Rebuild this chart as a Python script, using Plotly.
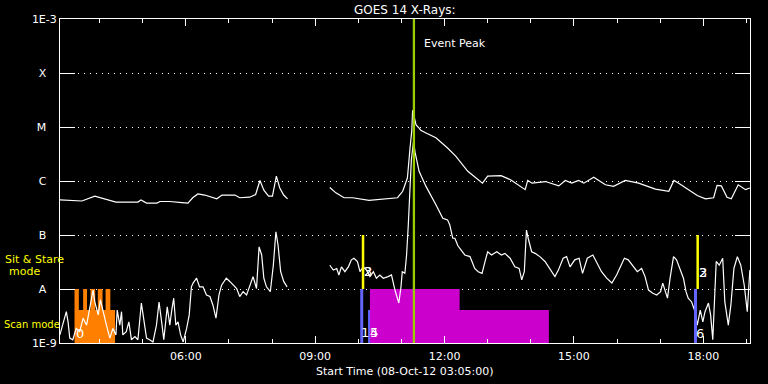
import numpy as np
import pandas as pd
import plotly.graph_objects as go

DAY = "2012-10-08"

# GOES 14 long channel (1-8 A): time (decimal hours UT) and log10 flux (W/m^2)
long_hours = [3.08, 3.42, 3.59, 3.89, 4.12, 4.38, 4.89, 4.96, 5.09, 5.33, 5.40, 5.63, 5.91, 6.05,
              6.16, 6.28, 6.44, 6.58, 6.72, 6.84, 7.14, 7.25, 7.48, 7.62, 7.72, 7.81, 7.92, 8.01,
              8.10, 8.18, 8.27, 8.36, 8.80, 9.34, 9.48, 9.67, 9.87, 10.25, 10.56, 10.91, 11.03,
              11.14, 11.20, 11.24, 11.26, 11.34, 11.41, 11.45, 11.57, 11.80, 12.07, 12.26, 12.54,
              12.88, 13.00, 13.31, 13.54, 13.56, 13.87, 13.93, 14.03, 14.34, 14.65, 14.80, 14.95,
              15.11, 15.23, 15.46, 15.73, 15.92, 16.19, 16.50, 16.89, 17.20, 17.32, 17.43, 17.66,
              17.86, 18.05, 18.24, 18.32, 18.42, 18.55, 18.65, 18.81, 18.98, 19.08]
long_log = [-6.35, -6.37, -6.37, -6.28, -6.33, -6.39, -6.39, -6.35, -6.41, -6.41, -6.38, -6.38, -6.40, -6.41,
            -6.31, -6.24, -6.26, -6.29, -6.33, -6.26, -6.26, -6.31, -6.30, -6.25, -5.99, -6.17, -6.28, -6.28,
            -5.91, -6.13, -6.26, -6.33, None, -6.12, -6.22, -6.31, -6.31, -6.36, -6.33, -6.31, -6.19,
            -5.94, -5.39, -5.07, -4.69, -4.96, -5.02, -5.06, -5.11, -5.20, -5.39, -5.54, -5.82,
            -6.04, -5.91, -5.90, -5.98, -5.99, -6.16, -5.99, -6.04, -6.01, -6.09, -5.99, -6.04,
            -5.99, -6.04, -5.93, -6.07, -6.10, -5.99, -6.04, -6.15, -6.19, -5.99, -6.04, -6.16,
            -6.27, -6.33, -6.31, -6.08, -6.09, -6.30, -6.33, -6.07, -6.16, -6.13]

# GOES 14 short channel (0.5-4 A)
short_hours = [3.08, 3.15, 3.23, 3.27, 3.31, 3.38, 3.46, 3.54, 3.62, 3.70, 3.77, 3.85, 3.89, 3.97,
               4.02, 4.08, 4.16, 4.24, 4.31, 4.38, 4.41, 4.47, 4.51, 4.54, 4.62, 4.68, 4.74, 4.82,
               4.89, 4.97, 5.05, 5.09, 5.16, 5.24, 5.32, 5.38, 5.44, 5.49, 5.57, 5.63, 5.67, 5.72,
               5.77, 5.82, 5.88, 5.94, 6.02, 6.08, 6.13, 6.17, 6.25, 6.32, 6.40, 6.48, 6.56, 6.63,
               6.70, 6.77, 6.83, 6.94, 7.02, 7.10, 7.18, 7.25, 7.33, 7.41, 7.48, 7.56, 7.64, 7.70,
               7.76, 7.81, 7.87, 7.96, 8.03, 8.09, 8.14, 8.20, 8.27, 8.35, 8.80,
               9.34, 9.42, 9.50, 9.55, 9.61, 9.69, 9.77, 9.84, 9.90, 9.98, 10.04, 10.11, 10.19,
               10.27, 10.35, 10.42, 10.50, 10.58, 10.69, 10.77, 10.85, 10.89, 10.94, 10.99, 11.02,
               11.08, 11.12, 11.16, 11.20, 11.23, 11.28, 11.32, 11.41, 11.57, 11.80, 11.96, 12.07,
               12.12, 12.19, 12.24, 12.31, 12.40, 12.47, 12.59, 12.70, 12.78, 12.87, 12.94, 13.00,
               13.09, 13.21, 13.32, 13.40, 13.52, 13.63, 13.73, 13.79, 13.85, 13.90, 13.94, 14.02,
               14.10, 14.21, 14.33, 14.44, 14.56, 14.64, 14.75, 14.83, 14.91, 15.02, 15.12, 15.20,
               15.31, 15.44, 15.53, 15.64, 15.76, 15.88, 15.99, 16.09, 16.17, 16.26, 16.38, 16.47,
               16.57, 16.65, 16.73, 16.83, 16.92, 17.01, 17.06, 17.11, 17.17, 17.23, 17.31, 17.38,
               17.46, 17.54, 17.60, 17.65, 17.73, 17.81, 17.86, 17.93, 17.99, 18.04, 18.12, 18.17,
               18.22, 18.25, 18.30, 18.37, 18.45, 18.50, 18.58, 18.64, 18.71, 18.79, 18.87, 18.95,
               19.02, 19.08]
short_log = [-8.85, -8.67, -8.42, -8.61, -8.91, -8.94, -8.73, -8.79, -8.54, -8.67, -8.36, -8.02, -8.24, -8.48,
             -8.20, -8.42, -8.67, -8.91, -8.73, -8.85, -8.39, -8.67, -8.42, -8.85, -8.79, -8.61, -8.94, -8.88,
             -8.94, -8.26, -8.67, -8.91, -8.94, -8.98, -8.67, -8.24, -8.61, -8.94, -8.33, -8.67, -8.42, -8.17,
             -8.67, -8.61, -8.85, -8.98, -8.73, -8.48, -7.96, -7.89, -7.80, -7.96, -7.96, -8.11, -8.14, -8.30,
             -8.54, -8.11, -7.93, -7.80, -7.86, -7.93, -7.99, -8.14, -8.05, -8.11, -7.96, -7.77, -7.99, -7.22,
             -7.37, -7.80, -7.96, -8.05, -7.56, -6.94, -7.19, -7.68, -7.86, -7.96, None,
             -7.56, -7.65, -7.62, -7.74, -7.59, -7.68, -7.59, -7.46, -7.43, -7.49, -7.68, -7.59, -7.65,
             -7.77, -7.68, -7.80, -7.74, -7.80, -7.77, -7.74, -8.02, -8.14, -8.26, -7.96, -7.68,
             -7.71, -7.37, -6.81, -6.17, -5.61, -5.28, -5.48, -5.82, -6.10, -6.44, -6.69, -6.72,
             -6.81, -7.06, -7.06, -7.20, -7.30, -7.37, -7.40, -7.62, -7.68, -7.71, -7.49, -7.31,
             -7.37, -7.31, -7.37, -7.34, -7.43, -7.59, -7.62, -7.83, -7.68, -6.91, -7.06, -7.31,
             -7.34, -7.40, -7.49, -7.62, -7.77, -7.65, -7.43, -7.40, -7.59, -7.46, -7.43, -7.71,
             -7.43, -7.37, -7.52, -7.68, -7.80, -7.89, -7.74, -7.56, -7.43, -7.46, -7.59, -7.68,
             -7.62, -7.77, -8.02, -8.08, -8.11, -8.05, -7.89, -8.02, -8.17, -7.80, -7.40, -7.46,
             -7.62, -7.80, -8.05, -8.17, -8.24, -8.42, -8.67, -8.39, -8.61, -8.42, -8.26, -8.48,
             -8.94, -8.42, -7.49, -7.56, -7.43, -8.24, -8.67, -8.30, -7.62, -7.40, -7.56, -7.93,
             -8.42, -7.65]

# Observation mode blocks (start, end hours; top level in W/m^2 scale)
orange_start = [3.42, 3.52, 3.62, 3.71, 3.79, 3.90, 3.96, 4.07, 4.14, 4.25]
orange_end = [3.52, 3.62, 3.71, 3.79, 3.90, 3.96, 4.07, 4.14, 4.25, 4.36]
orange_level = [1e-8, 4.1e-9, 1e-8, 4.1e-9, 1e-8, 4.1e-9, 1e-8, 4.1e-9, 1e-8, 4.1e-9]
magenta_start = [10.27, 12.35]
magenta_end = [12.35, 14.42]
magenta_level = [1e-8, 4.1e-9]

peak_hour = 11.29
sit_stare_hours = [10.11, 17.87]
scan_hours = [10.08, 17.82]
scan_thin_hour = 10.25

y_tickvals = [1e-9, 1e-8, 1e-7, 1e-6, 1e-5, 1e-4, 1e-3]
y_ticktext = ["1E-9", "A", "B", "C", "M", "X", "1E-3"]
x_tick_hours = [6, 9, 12, 15, 18]
x_ticktext = ["06:00", "09:00", "12:00", "15:00", "18:00"]

BASE = pd.Timestamp(DAY)


def t(h):
    return BASE + pd.to_timedelta(np.asarray(h, dtype=float), unit="h")


def step_polygon(starts, ends, levels, floor=1e-9):
    xs, ys = [], []
    for s, e, lv in zip(starts, ends, levels):
        xs += [s, s, e, e]
        ys += [floor, lv, lv, floor]
    return t(xs), ys


FONT = "DejaVu Sans"
WHITE = "#ffffff"
fig = go.Figure()

ox, oy = step_polygon(orange_start, orange_end, orange_level)
fig.add_trace(go.Scatter(x=ox, y=oy, fill="toself", fillcolor="#ff8000", line=dict(width=0),
                         mode="lines", hoverinfo="skip"))
mx, my = step_polygon(magenta_start, magenta_end, magenta_level)
fig.add_trace(go.Scatter(x=mx, y=my, fill="toself", fillcolor="#cc00cc", line=dict(width=0),
                         mode="lines", hoverinfo="skip"))


def tolin(vals):
    return [None if v is None else 10 ** v for v in vals]


fig.add_trace(go.Scatter(x=t(long_hours), y=tolin(long_log), mode="lines",
                         line=dict(color=WHITE, width=1.2)))
fig.add_trace(go.Scatter(x=t(short_hours), y=tolin(short_log), mode="lines",
                         line=dict(color=WHITE, width=1.2)))

for h in sit_stare_hours:
    fig.add_trace(go.Scatter(x=t([h, h]), y=[1e-8, 1e-7], mode="lines",
                             line=dict(color="#ffff00", width=2.5)))
for h in scan_hours:
    fig.add_trace(go.Scatter(x=t([h, h]), y=[1e-9, 1e-8], mode="lines",
                             line=dict(color="#6464ff", width=3)))
fig.add_trace(go.Scatter(x=t([scan_thin_hour, scan_thin_hour]), y=[1e-9, 4.1e-9], mode="lines",
                         line=dict(color="#6464ff", width=2)))
fig.add_trace(go.Scatter(x=t([peak_hour, peak_hour]), y=[1e-9, 1e-3], mode="lines",
                         line=dict(color="#9acd00", width=2.3)))

ann = []


def add_text(text, x, y, xref="paper", yref="paper", xshift=0, yshift=0, color=WHITE, size=11,
             xanchor="center", yanchor="middle"):
    ann.append(dict(text=text, x=x, y=y, xref=xref, yref=yref, xshift=xshift, yshift=yshift,
                    showarrow=False, xanchor=xanchor, yanchor=yanchor,
                    font=dict(family=FONT, size=size, color=color)))


add_text("GOES 14 X-Rays:", 0.5, 1, yshift=9, size=12)
add_text("Start Time (08-Oct-12 03:05:00)", 0.5, 0, yshift=-28, size=11)
add_text("Event Peak", t([peak_hour])[0], 1, xref="x", xanchor="left", xshift=8, yshift=-24, size=11)
add_text("Sit & Stare", 0, 0, xshift=-25.5, yshift=343 - 259, color="#ffff00", size=11)
add_text("mode", 0, 0, xshift=-35.5, yshift=343 - 271, color="#ffff00", size=11)
add_text("Scan mode", 0, 0, xanchor="left", xshift=-58, yshift=343 - 324, color="#ffff00", size=10)

digit_labels = [("1", 10.15, -8.81), ("4", 10.37, -8.81), ("5", 10.37, -8.81),
                ("2", 10.23, -7.68), ("3", 10.23, -7.68), ("6", 17.92, -8.82),
                ("2", 17.99, -7.69), ("3", 17.99, -7.69), ("0", 3.55, -8.82)]
for txt, h, ly in digit_labels:
    add_text(txt, t([h])[0], ly, xref="x", yref="y", size=13)

fig.update_layout(
    width=768, height=384,
    margin=dict(l=60, r=18, t=19, b=41),
    paper_bgcolor="#000000", plot_bgcolor="#000000",
    showlegend=False,
    font=dict(family=FONT, color=WHITE, size=11),
    annotations=ann,
)
fig.update_xaxes(
    type="date",
    range=[t(3 + 5 / 60), t(19 + 5 / 60)],
    tickvals=t(x_tick_hours), ticktext=x_ticktext,
    ticks="inside", ticklen=7, tickwidth=1, tickcolor=WHITE,
    minor=dict(dtick=3600000, tick0=DAY, ticks="inside", ticklen=4, tickcolor=WHITE, showgrid=False),
    showline=True, linecolor=WHITE, linewidth=1, mirror="allticks",
    showgrid=False, zeroline=False, ticklabelstandoff=3,
    tickfont=dict(family=FONT, size=11, color=WHITE),
)
fig.update_yaxes(
    type="log", range=[-9, -3],
    tickvals=y_tickvals,
    ticktext=[s if s.startswith("1E") else s + "\u00a0\u00a0\u00a0" for s in y_ticktext],
    ticks="inside", ticklen=15, tickwidth=1, tickcolor=WHITE,
    showline=True, linecolor=WHITE, linewidth=1, mirror="allticks",
    showgrid=True, gridcolor=WHITE, gridwidth=1, griddash="1px,5px",
    zeroline=False,
    tickfont=dict(family=FONT, size=11, color=WHITE),
)

fig.write_html("out.html")
